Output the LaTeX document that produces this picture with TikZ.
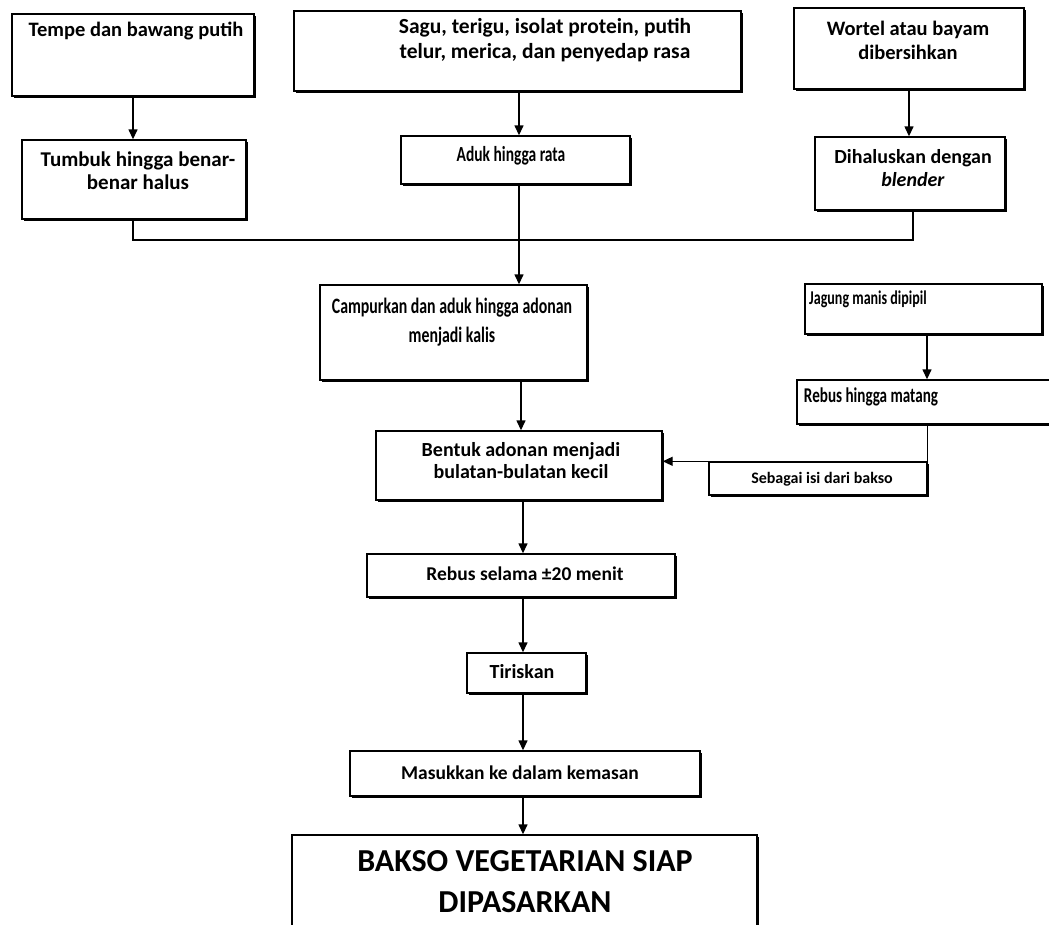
\documentclass[tikz,border=0pt]{standalone}
\usepackage{fontspec}
\setmainfont{Carlito}
\newfontfamily\condfont{Carlito}[FakeStretch=0.72]
\usetikzlibrary{arrows.meta,shadows}
\tikzset{
  box/.style={draw=black, fill=white, line width=1.4pt, inner sep=0pt,
    drop shadow={shadow xshift=2pt, shadow yshift=-2pt, opacity=1, fill=black}},
  txt/.style={inner sep=0pt, align=center},
  conn/.style={line width=1.4pt},
  arr/.style={line width=1.4pt, -{Triangle[length=10pt,width=9pt]}}
}
\newcommand{\mybox}[5]{%
  \node[box, minimum width={(#3-#2)*1pt}, minimum height={(#5-#4)*1pt}]
    (#1) at ({(#2+#3)/2},{(#4+#5)/2}) {};}
\newcommand{\fs}[2]{\bfseries\fontsize{#1}{#2}\selectfont}
\newcommand{\cfs}[2]{\condfont\bfseries\fontsize{#1}{#2}\selectfont}
\begin{document}
\begin{tikzpicture}[x=1pt,y=-1pt]
\useasboundingbox (0,0) rectangle (1049,924);
% boxes
\mybox{b1}{12}{254}{14}{96}
\mybox{b2}{294}{741}{11}{91}
\mybox{b3}{794}{1024}{8}{89}
\mybox{b4}{22}{246}{140}{219}
\mybox{b5}{401}{630}{136}{184}
\mybox{b6}{815}{1005}{137}{210}
\mybox{b7}{320}{587}{285}{380}
\mybox{b8}{805}{1042}{284}{334}
\mybox{b9}{797}{1056}{380}{424}
\mybox{b10}{376}{662}{431}{500}
\mybox{b11}{709}{927}{462}{495}
\mybox{b12}{367}{675}{554}{597}
\mybox{b13}{467}{586}{653}{693}
\mybox{b14}{350}{700}{751}{796}
\mybox{b15}{292}{757}{835}{940}
% texts
\node[txt, font=\fs{20.5}{24}] (t1) at (136,31) {Tempe dan bawang putih};
\node[txt, font=\fs{21.5}{25}] (t2) at (545,40) {Sagu, terigu, isolat protein, putih\\telur, merica, dan penyedap rasa};
\node[txt, font=\fs{20.5}{24}] (t3) at (908,40) {Wortel atau bayam\\dibersihkan};
\node[txt, font=\fs{21}{23}] (t4) at (138,171) {Tumbuk hingga benar-\\benar halus};
\node[txt, font=\cfs{21.5}{20}] (t5) at (511,156) {Aduk hingga rata};
\node[txt, font=\fs{20}{23}] (t6) at (913,168) {Dihaluskan dengan\\\textit{blender}};
\node[txt, font=\cfs{22}{29}] (t7) at (452,322) {Campurkan dan aduk hingga adonan\\menjadi kalis};
\node[txt, font=\cfs{19.5}{20}] (t8) at (868,299) {Jagung manis dipipil};
\node[txt, font=\cfs{21}{20}] (t9) at (871,397) {Rebus hingga matang};
\node[txt, font=\fs{20}{22}] (t10) at (521,461) {Bentuk adonan menjadi\\bulatan-bulatan kecil};
\node[txt, font=\fs{16}{18}] (t11) at (822,479) {Sebagai isi dari bakso};
\node[txt, font=\fs{19.5}{22}] (t12) at (525,574) {Rebus selama ±20 menit};
\node[txt, font=\fs{20}{22}] (t13) at (522,672) {Tiriskan};
\node[txt, font=\fs{19.5}{22}] (t14) at (520,773) {Masukkan ke dalam kemasan};
\node[txt, font=\fs{32}{41}] (t15) at (525,882) {BAKSO VEGETARIAN SIAP\\DIPASARKAN};
% column coordinates
\coordinate (cA) at (133,240);
\coordinate (cB) at (913,240);
\coordinate (x519) at (519,0);
\coordinate (x521) at (521,0);
\coordinate (x523) at (523,0);
\coordinate (x927) at (927,0);
\coordinate (x909) at (909,0);
% connectors
\draw[arr] (b1.south -| cA) -- (b4.north -| cA);
\draw[arr] (b2.south -| x519) -- (b5.north -| x519);
\draw[arr] (b3.south -| x909) -- (b6.north -| x909);
\draw[conn] (b4.south -| cA) -- (cA) -- (cB) -- (b6.south -| cB);
\draw[arr] (b5.south -| x519) -- (b7.north -| x519);
\draw[arr] (b7.south -| x521) -- (b10.north -| x521);
\draw[arr] (b8.south -| x927) -- (b9.north -| x927);
\draw[conn] (b9.south -| b11.east) -- (b11.north east);
\draw[arr] (b11.north west) -- (b10.east |- b11.north west);
\draw[arr] (b10.south -| x523) -- (b12.north -| x523);
\draw[arr] (b12.south -| x523) -- (b13.north -| x523);
\draw[arr] (b13.south -| x523) -- (b14.north -| x523);
\draw[arr] (b14.south -| x523) -- (b15.north -| x523);
\end{tikzpicture}
\end{document}
